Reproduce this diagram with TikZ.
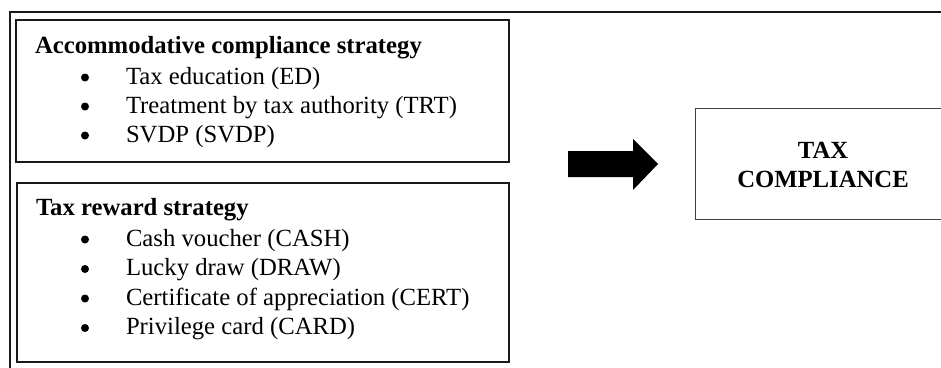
\documentclass[tikz,border=0pt]{standalone}
\usepackage{fontspec}
\setmainfont{Liberation Serif}
\begin{document}
\begin{tikzpicture}[x=1pt,y=-1pt,
  every node/.style={inner sep=0pt,outer sep=0pt},
  frameline/.style={line width=1.8pt,draw=black!90},
  boxline/.style={line width=1.4pt,draw=black!90},
  title/.style={anchor=base west,font=\fontsize{24.7}{29}\selectfont\bfseries},
  item/.style={anchor=base west,font=\fontsize{24.7}{29}\selectfont},
  bul/.style={circle,fill=black,minimum size=8pt},
]
\useasboundingbox (0,0) rectangle (941,367);
% outer frame
\coordinate (fa) at (10,372);
\coordinate (fb) at (10,12);
\coordinate (fc) at (946,12);
\draw[frameline] (fa) -- (fb) -- (fc);
% box 1
\node[boxline,draw,minimum width=493,minimum height=142,anchor=north west] (b1) at (16,20) {};
\node[title] (t1) at (35,53) {Accommodative compliance strategy};
\node[bul] (d11) at (85,77.5) {};
\node[item] (i11) at (126,84) {Tax education (ED)};
\node[bul] (d12) at (85,106.5) {};
\node[item] (i12) at (126,113) {Treatment by tax authority (TRT)};
\node[bul] (d13) at (85,135.5) {};
\node[item] (i13) at (126,142) {SVDP (SVDP)};
% box 2
\node[boxline,draw,minimum width=492,minimum height=179,anchor=north west] (b2) at (17,183) {};
\node[title] (t2) at (36,215) {Tax reward strategy};
\node[bul] (d21) at (85,239.5) {};
\node[item] (i21) at (126,246) {Cash voucher (CASH)};
\node[bul] (d22) at (85,269) {};
\node[item] (i22) at (126,275.5) {Lucky draw (DRAW)};
\node[bul] (d23) at (85,298.5) {};
\node[item] (i23) at (126,305) {Certificate of appreciation (CERT)};
\node[bul] (d24) at (85,328) {};
\node[item] (i24) at (126,334.5) {Privilege card (CARD)};
% block arrow
\fill[black] (568,151) -- (633,151) -- (633,139) -- (658,164) -- (633,190) -- (633,177) -- (568,177) -- cycle;
% tax compliance box
\node[draw=black!75,line width=0.9pt,minimum width=256,minimum height=111,anchor=north west] (tc) at (695,108) {};
\node[anchor=base,font=\fontsize{24.7}{29}\selectfont\bfseries] (tc1) at (823,158) {TAX};
\node[anchor=base,font=\fontsize{24.7}{29}\selectfont\bfseries] (tc2) at (823,187) {COMPLIANCE};
\end{tikzpicture}
\end{document}
